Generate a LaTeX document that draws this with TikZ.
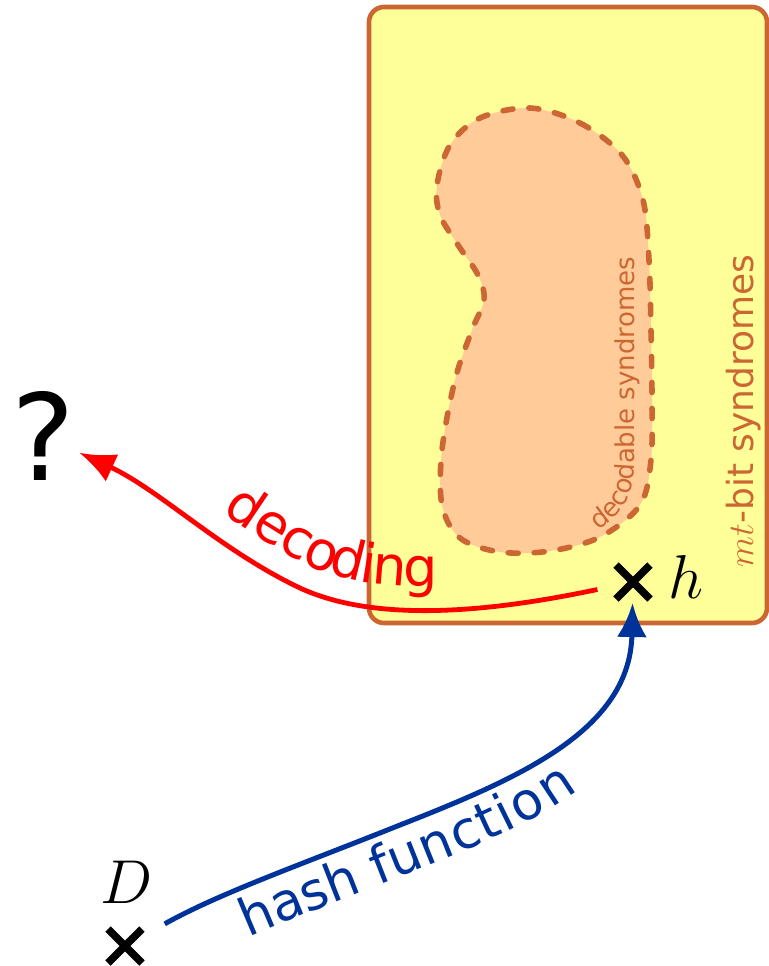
\RequirePackage{fix-cm}
\documentclass[tikz,border=0pt]{standalone}
\usepackage{fontspec}
\setmainfont{DejaVu Sans}
\usetikzlibrary{arrows.meta,positioning,decorations.text}
\definecolor{boxfill}{RGB}{255,255,153}
\definecolor{boxline}{RGB}{204,102,51}
\definecolor{blobfill}{RGB}{255,204,153}
\definecolor{hashblue}{RGB}{0,51,153}
\newcommand{\arcfont}{\fontsize{27}{32}\selectfont}
\newcommand{\hashfont}{\fontsize{26}{31}\selectfont}

\begin{document}
\begin{tikzpicture}[x=0.5pt,y=-0.5pt,>=Latex,
  xmark/.style={minimum size=17pt,inner sep=0pt,outer sep=0pt},
  crossline/.style={line width=3.8pt},
  region/.style={draw=boxline,line width=2.3pt,fill=boxfill,rounded corners=7.5pt},
  blob/.style={draw=boxline,line width=2.8pt,fill=blobfill,
               dash pattern=on 5pt off 8pt,line cap=round},
  decodearrow/.style={draw=red,line width=2.4pt,-{Latex[length=18pt,width=15pt]}},
  hasharrow/.style={draw=hashblue,line width=2.5pt,-{Latex[length=17pt,width=15pt]}},
  mathlbl/.style={font=\fontsize{31}{36}\selectfont,inner sep=0pt}]

\useasboundingbox (0,0) rectangle (768,966);

% syndrome space
\draw[region] (369,7) rectangle (767,623);
\draw[blob] plot[smooth cycle,tension=0.55] coordinates {
  (530,108) (580,123) (622,155) (643,200) (649,260) (651,330)
  (652,400) (651,460) (640,505) (600,537) (550,551) (500,552) (460,538)
  (442,505) (442,450) (455,380) (472,330) (484,300) (478,275) (458,245)
  (440,215) (437,185) (450,145) (480,118)};
\node[rotate=90,anchor=base,text=boxline,font=\fontsize{18}{21}\selectfont,
      inner sep=0pt] (allsyn) at (753,411) {$mt$-bit syndromes};
\path[decorate,decoration={text along path,text color=boxline,
      text={|\fontsize{13}{15}\selectfont|decodable syndromes}}]
  (598,530) .. controls (622,514) and (634,497) .. (634,465) -- (634,240);

% points
\node[xmark] (hx) at (633,582) {};
\node[xmark] (dx) at (125,946) {};
\draw[crossline] (hx.north west) -- (hx.south east) (hx.south west) -- (hx.north east);
\draw[crossline] (dx.north west) -- (dx.south east) (dx.south west) -- (dx.north east);
\node[mathlbl,anchor=base west] (hlbl) at (668,598) {$h$};
\node[mathlbl,anchor=base] (dlbl) at (127,903) {$D$};
\node[font=\fontsize{60}{70}\selectfont,inner sep=2pt] (q) at (43,436) {?};

% maps
\draw[decodearrow,shorten <=9.5pt] (hx) .. controls (500,610) and (380,625) .. (300,588)
  .. controls (220,550) and (160,490) .. (q);
\path[decorate,decoration={text along path,text color=red,raise=12pt,
      text align={left indent=76pt},text={|\arcfont|decoding}}]
  (q) .. controls (160,490) and (220,550) .. (300,588)
  .. controls (380,625) and (500,610) .. (hx);
\draw[hasharrow,shorten <=13pt,shorten >=2pt] (dx) .. controls (220,893) and (300,865) .. (400,825)
  .. controls (520,778) and (630,730) .. (hx);
\path[decorate,decoration={text along path,text color=hashblue,raise=-24pt,
      text align={left indent=49pt},text={|\hashfont|hash function}}]
  (dx) .. controls (220,893) and (300,865) .. (400,825)
  .. controls (520,778) and (630,730) .. (hx);
\end{tikzpicture}
\end{document}
